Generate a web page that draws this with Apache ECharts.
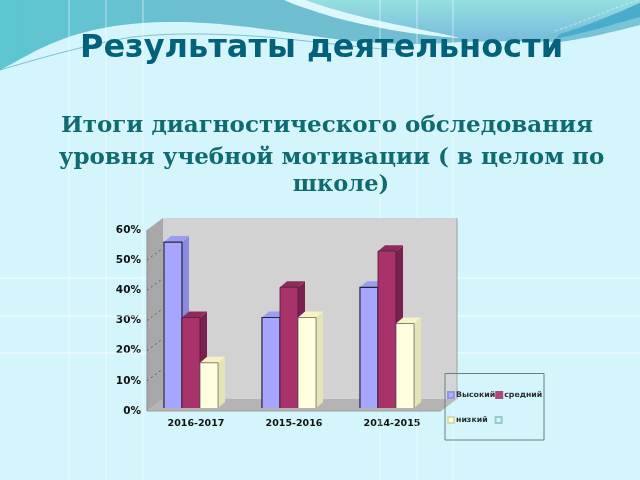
<!DOCTYPE html>
<html><head><meta charset="utf-8">
<style>html,body{margin:0;padding:0;background:#d4f6fb}#c{width:640px;height:480px}</style>
<script src="https://cdn.jsdelivr.net/npm/echarts@6/dist/echarts.min.js"></script>
</head><body><div id="c"></div>
<script>
const categories = ['2016-2017','2015-2016','2014-2015'];
const seriesNames = ['Высокий','средний','низкий'];
const high = [55,30,40];
const mid = [30,40,52];
const low = [15,30,28];
const yTicks = [0,10,20,30,40,50,60];
const palette = [
  {front:'#a6a6ff',side:'#8a8ae0',top:'#9c9cf0',edge:'#24243c',swatch:'#8a8ae0'},
  {front:'#a8336b',side:'#7a2150',top:'#8e2a5c',edge:'#4a1632',swatch:'#a8336b'},
  {front:'#ffffdf',side:'#e4e4b6',top:'#f6f4c6',edge:'#6a6a5c',swatch:'#d9d9a0'}
];
const chart = echarts.init(document.getElementById('c'),null,{renderer:'canvas'});
function poly(points,fill,stroke,lw){
  return {type:'polygon',shape:{points},style:{fill,stroke:stroke||null,lineWidth:lw||0}};
}
function trace(d){
  const t=d.trim().split(/\s+/);let i=0,cur=[0,0];const out=[];
  while(i<t.length){
    const m=t[i];
    const cmd=m[0], rest=m.slice(1);
    if(cmd==='Z'){i++;continue;}
    const nums=[];
    nums.push(parseFloat(rest));i++;
    const need=cmd==='C'?5:1;
    for(let k=0;k<need;k++){nums.push(parseFloat(t[i++]));}
    if(cmd==='M'||cmd==='L'){cur=[nums[0],nums[1]];out.push(cur);}
    else{
      const [a,b,c,e,f,g]=nums, s=cur;
      for(let n=1;n<=24;n++){const u=n/24,v=1-u;
        out.push([v*v*v*s[0]+3*v*v*u*a+3*v*u*u*c+u*u*u*f, v*v*v*s[1]+3*v*v*u*b+3*v*u*u*e+u*u*u*g]);}
      cur=[f,g];
    }
  }
  return out;
}
function wave(d,style){return {type:'polygon',shape:{points:trace(d)},style};}
function strand(d,style){return {type:'polyline',shape:{points:trace(d)},style};}
const decor = {
  type:'custom',coordinateSystem:'none',z:0,silent:true,name:'decor',data:[[0]],
  renderItem(){
    return {type:'group',children:[
      wave('M0 0 L640 0 L640 60 L0 90 Z',{fill:new echarts.graphic.LinearGradient(0,0,1,0,[{offset:0,color:'#5cc6d0'},{offset:0.3,color:'#6cbfd0'},{offset:0.7,color:'#72bdd2'},{offset:1,color:'#78c4d8'}])}),
      wave('M306 0 L640 0 L640 3 C600 20 570 32 530 38 C505 41 480 40 460 38 C420 28 360 20 306 0 Z',{fill:new echarts.graphic.LinearGradient(0,0,0,1,[{offset:0,color:'#95dfe0'},{offset:1,color:'#78bcdc'}])}),
      wave('M284 0 L306 0 C360 20 420 28 460 38 C420 36 360 26 320 13 C305 8 295 5 284 0 Z',{fill:'#dcf8fb'}),
      wave('M560 34 C590 25 620 12 640 3 L640 17 C610 25 590 32 555 39 Z',{fill:'#4aaccc'}),
      wave('M0 70 C30 55 65 28 143 23 C200 19 250 27 320 37 C390 47 430 44 460 42 C500 41 530 41 560 42 C590 38 620 30 640 25 L640 480 L0 480 Z',{fill:'#d3f5fb'}),
      strand('M0 70 C50 55 100 42 133 37 C160 34 200 32 267 37 C320 42 360 48 400 50',{fill:null,stroke:'rgba(60,150,170,0.7)',lineWidth:0.8}),
      strand('M555 31 C590 20 610 8 640 0',{fill:null,stroke:'rgba(235,250,250,0.7)',lineWidth:0.8,lineDash:[3,2]})
    ]};
  }
};
function bar(si,data){
  return {
    name:seriesNames[si],type:'custom',coordinateSystem:'cartesian2d',z:4,
    itemStyle:{color:palette[si].front,borderColor:palette[si].swatch,borderWidth:0.5},
    encode:{x:0,y:1},
    data:data.map((v,i)=>[i,v]),
    renderItem(params,api){
      const c=api.coord([api.value(0),api.value(1)]);
      const b=api.coord([api.value(0),0]);
      const band=api.size([1,0])[0];
      const w=band*0.184, dx=7, dy=6;
      const x0=b[0]-band*0.327+si*w, x1=x0+w, y0=b[1]-3, y1=c[1]-3;
      const p=palette[si];
      return {type:'group',children:[
        poly([[x1,y0],[x1+dx,y0-dy],[x1+dx,y1-dy],[x1,y1]],p.side),
        poly([[x0,y1],[x0+dx,y1-dy],[x1+dx,y1-dy],[x1,y1]],p.top),
        poly([[x0,y0],[x0,y1],[x1,y1],[x1,y0]],p.front),
        {type:'polyline',shape:{points:[[x0,y0],[x0,y1],[x1,y1],[x1,y0]]},style:{fill:null,stroke:p.edge,lineWidth:si===0?1.2:0.8}}
      ]};
    }
  };
}
const walls = {
  type:'custom',coordinateSystem:'cartesian2d',z:3,silent:true,name:'walls',
  data:[[0,0]],encode:{x:0,y:1},
  renderItem(params,api){
    const band=api.size([1,0])[0];
    const o=api.coord([0,0]);
    const left=o[0]-band/2, right=left+band*3, by=o[1];
    const ty=api.coord([0,60])[1];
    const dx=16, dy=12;
    const kids=[
      poly([[left+dx,by-dy],[left+dx,ty-dy],[right+dx,ty-dy],[right+dx,by-dy]],'#d2d2d2'),
      {type:'line',shape:{x1:right+dx,y1:ty-dy,x2:right+dx,y2:by-dy},style:{stroke:'#a0a0a0',lineWidth:1}},
      poly([[left,by],[left+dx,by-dy],[right+dx,by-dy],[right,by]],'#b4b4b4'),
      poly([[left,by],[left,ty],[left+dx,ty-dy],[left+dx,by-dy]],'#a8a8a8'),
      {type:'line',shape:{x1:left,y1:by,x2:left,y2:ty},style:{stroke:'#8c8c8c',lineWidth:1}},
      {type:'line',shape:{x1:left,y1:by,x2:right,y2:by},style:{stroke:'#a0a0a0',lineWidth:1}}
    ];
    yTicks.slice(1,-1).forEach(t=>{
      const y=api.coord([0,t])[1];
      kids.push({type:'line',shape:{x1:left,y1:y,x2:left+dx,y2:y-dy},style:{stroke:'#4a4a4a',lineWidth:0.8,lineDash:[2,3]}});
    });
    return {type:'group',children:kids};
  }
};
const blank = {name:' ',type:'custom',coordinateSystem:'cartesian2d',data:[],encode:{x:0,y:1},
  itemStyle:{color:'rgba(220,250,250,0.6)',borderColor:'#8fc4c4',borderWidth:1},renderItem(){return null;}};
const legendText={fontFamily:'DejaVu Sans',fontWeight:'bold',fontSize:7.8,color:'#111'};
const bgLines=[];
[69,106,143,380,417,453].forEach(x=>bgLines.push({type:'line',z:1,silent:true,shape:{x1:x,y1:0,x2:x,y2:480},style:{stroke:'rgba(255,255,255,0.55)',lineWidth:1}}));
[278,316,353].forEach(y=>bgLines.push({type:'line',z:1,silent:true,shape:{x1:0,y1:y,x2:640,y2:y},style:{stroke:'rgba(255,255,255,0.75)',lineWidth:1}}));
const option = {
  animation:false,
  backgroundColor:'#d3f5fb',
  title:[
    {text:'Результаты деятельности',left:316.5,top:28,textAlign:'center',textStyle:{fontFamily:'DejaVu Sans',fontWeight:'bold',fontSize:32,color:'#04617b'}},
    {text:'Итоги диагностического обследования',left:322,top:110,textAlign:'center',textStyle:{fontFamily:'DejaVu Serif',fontWeight:'bold',fontSize:23,color:'#0f6b70'}},
    {text:'уровня учебной мотивации ( в целом по',left:326.5,top:142,textAlign:'center',textStyle:{fontFamily:'DejaVu Serif',fontWeight:'bold',fontSize:23,color:'#0f6b70'}},
    {text:'школе)',left:336,top:169,textAlign:'center',textStyle:{fontFamily:'DejaVu Serif',fontWeight:'bold',fontSize:22.5,color:'#0f6b70'}}
  ],
  grid:{left:147,width:294,top:230,height:181,containLabel:false},
  xAxis:{type:'category',data:categories,axisLine:{show:false},axisTick:{show:false},
    axisLabel:{margin:8,fontFamily:'DejaVu Sans',fontWeight:'bold',fontSize:9.5,color:'#111'}},
  yAxis:{type:'value',min:0,max:60,interval:10,axisLine:{show:false},axisTick:{show:false},splitLine:{show:false},
    axisLabel:{margin:6,formatter:'{value}%',fontFamily:'DejaVu Sans',fontWeight:'bold',fontSize:10.5,color:'#111'}},
  legend:[
    {data:[seriesNames[0],seriesNames[1]],left:445,top:391,itemWidth:6,itemHeight:6,itemGap:0,icon:'rect',padding:[0,0,0,2],selectedMode:false,textStyle:{...legendText,padding:[0,0,0,-3]}},
    {data:[seriesNames[2],' '],left:445,top:416,itemWidth:6,itemHeight:6,itemGap:7,icon:'rect',padding:[0,0,0,2],selectedMode:false,textStyle:{...legendText,padding:[0,0,0,-3]}}
  ],
  graphic:[
    ...bgLines,
    {type:'rect',z:5,silent:true,shape:{x:445,y:373.5,width:99,height:66.5},style:{fill:'rgba(211,245,251,0.12)',stroke:'#6f7f80',lineWidth:1}}
  ],
  series:[decor,walls,bar(0,high),bar(1,mid),bar(2,low),blank]
};
chart.setOption(option);
</script></body></html>
